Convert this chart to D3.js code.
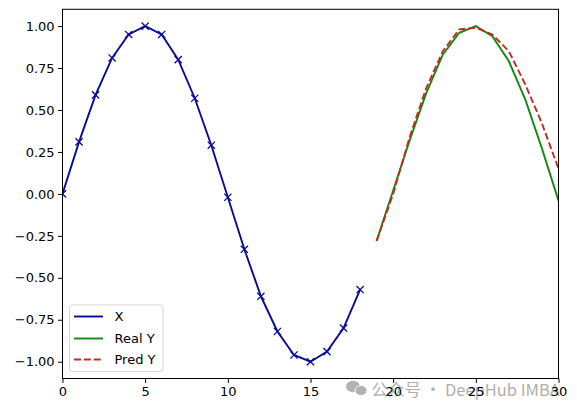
<!DOCTYPE html>
<html>
<head>
<meta charset="utf-8">
<script src="https://cdn.jsdelivr.net/npm/d3@7"></script>
<style>
  html, body { margin: 0; padding: 0; background: #fff; }
  svg { display: block; font-family: "DejaVu Sans", sans-serif; }
</style>
</head>
<body>
<svg id="chart" width="577" height="413"></svg>
<script>
// ---- data ----
const xSteps = [0,1,2,3,4,5,6,7,8,9,10,11,12,13,14,15,16,17,18];
const xValues = [0.00,0.31,0.59,0.81,0.95,1.00,0.95,0.80,0.57,0.29,-0.02,-0.33,-0.61,-0.82,-0.96,-1.00,-0.94,-0.80,-0.57];
const ySteps = [19,20,21,22,23,24,25,26,27,28,29,30];
const realY = [-0.28,0.02,0.32,0.60,0.83,0.96,1.00,0.94,0.79,0.56,0.27,-0.04];
const predY = [-0.28,0.00,0.34,0.63,0.85,0.98,0.99,0.95,0.85,0.65,0.42,0.15];
const xTicks = [0,5,10,15,20,25,30];
const yTicks = [-1.00,-0.75,-0.50,-0.25,0.00,0.25,0.50,0.75,1.00];
const legendLabels = ["X","Real Y","Pred Y"];
const watermark = "公众号 · DeepHub IMBA";

const svg = d3.select("#chart");
const L = 62.5, R = 558.5, T = 9.3, B = 378.5;
const x = d3.scaleLinear().domain([0,30]).range([L,R]);
const y = d3.scaleLinear().domain([-1.1,1.1]).range([B,T]);

const fmt = v => d3.format(".2f")(v).replace("-", "\u2212");

// watermark (drawn first so the tick labels sit on top of it)
const wm = svg.append("g").attr("opacity",0.8);
wm.append("ellipse").attr("cx",353).attr("cy",386.5).attr("rx",7).attr("ry",5.8).attr("fill","#a0a0a0");
wm.append("ellipse").attr("cx",361).attr("cy",390.5).attr("rx",6).attr("ry",5).attr("fill","#a0a0a0").attr("stroke","#fff").attr("stroke-width",1);
wm.append("text").attr("x",371.5).attr("y",390).attr("dy","0.36em")
  .style("font-size","16.5px").style("font-family","Noto Sans CJK SC, DejaVu Sans")
  .attr("fill","#9c9c9c").text(watermark);

// axes
const xAxis = d3.axisBottom(x).tickValues(xTicks).tickSize(4.4).tickPadding(3.5).tickFormat(d3.format("d"));
const yAxis = d3.axisLeft(y).tickValues(yTicks).tickSize(4.4).tickPadding(3.5).tickFormat(fmt);

const gx = svg.append("g").attr("transform", `translate(0,${B})`).call(xAxis);
const gy = svg.append("g").attr("transform", `translate(${L},0)`).call(yAxis);
[gx, gy].forEach(g => {
  g.select(".domain").remove();
  g.selectAll("line").attr("stroke","#000").attr("stroke-width",1);
  g.selectAll("text").attr("fill","#000").style("font-size","13px").style("font-family","DejaVu Sans");
});

// clip
svg.append("clipPath").attr("id","clip").append("rect")
  .attr("x",L).attr("y",T).attr("width",R-L).attr("height",B-T);

const plot = svg.append("g").attr("clip-path","url(#clip)");
const line = d3.line().x(d => x(d[0])).y(d => y(d[1]));

const blue = "#0a0a9a", green = "#118a11", red = "#c42a22";

plot.append("path").datum(xSteps.map((s,i)=>[s,xValues[i]]))
  .attr("d", line).attr("fill","none").attr("stroke",blue).attr("stroke-width",1.9);
const ms = 3.6;
plot.selectAll("path.mk").data(xSteps.map((s,i)=>[s,xValues[i]])).enter().append("path")
  .attr("class","mk")
  .attr("d", d => { const cx=x(d[0]), cy=y(d[1]);
    return `M${cx-ms},${cy-ms}L${cx+ms},${cy+ms}M${cx-ms},${cy+ms}L${cx+ms},${cy-ms}`; })
  .attr("stroke",blue).attr("stroke-width",1.3).attr("fill","none");

plot.append("path").datum(ySteps.map((s,i)=>[s,realY[i]]))
  .attr("d", line).attr("fill","none").attr("stroke",green).attr("stroke-width",1.9);
plot.append("path").datum(ySteps.map((s,i)=>[s,predY[i]]))
  .attr("d", line).attr("fill","none").attr("stroke",red).attr("stroke-width",1.9)
  .attr("stroke-dasharray","6.9,3");

// frame
svg.append("rect").attr("x",L).attr("y",T).attr("width",R-L).attr("height",B-T)
  .attr("fill","none").attr("stroke","#000").attr("stroke-width",1);

// legend
const lg = svg.append("g");
lg.append("rect").attr("x",69.5).attr("y",305).attr("width",93.5).attr("height",66.5).attr("rx",2.5)
  .attr("fill","#fff").attr("fill-opacity",0.8).attr("stroke","#d6d6d6").attr("stroke-width",1);
const colors = [blue, green, red];
const rowY = [316.5, 338.5, 359.5];
legendLabels.forEach((lab,i) => {
  lg.append("line").attr("x1",74).attr("x2",103).attr("y1",rowY[i]).attr("y2",rowY[i])
    .attr("stroke",colors[i]).attr("stroke-width",1.9)
    .attr("stroke-dasharray", i===2 ? "6.9,3" : null);
  lg.append("text").attr("x",114.5).attr("y",rowY[i]).attr("dy","0.36em")
    .style("font-size","13px").attr("fill","#000").text(lab);
});
</script>
</body>
</html>
